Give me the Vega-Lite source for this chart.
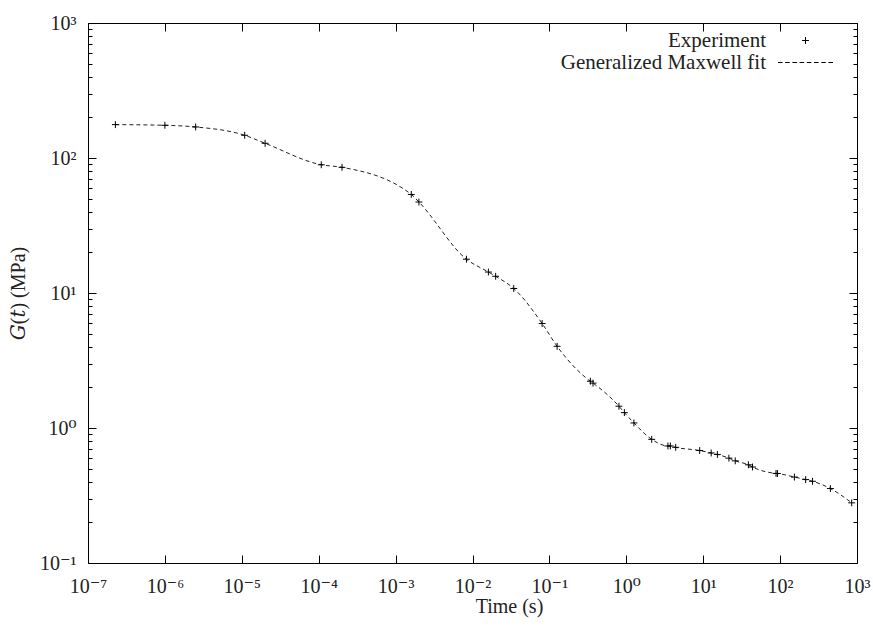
{
  "$schema": "https://vega.github.io/schema/vega-lite/v6.json",
  "width": 769,
  "height": 540,
  "autosize": "none",
  "padding": {"left": 88, "top": 23, "right": 16, "bottom": 63},
  "background": "white",
  "config": {
    "font": "Liberation Serif, DejaVu Serif, serif",
    "view": {"stroke": null},
    "axis": {
      "grid": false,
      "domainColor": "black",
      "domainWidth": 1,
      "tickColor": "black",
      "tickWidth": 1,
      "labelColor": "#222",
      "titleColor": "#222",
      "labelFont": "Liberation Serif, DejaVu Serif, serif",
      "titleFont": "Liberation Serif, DejaVu Serif, serif",
      "labelFontSize": 20,
      "titleFontSize": 20,
      "titleFontWeight": "normal",
      "labelFlush": false,
      "labelOverlap": false
    }
  },
  "data": {
    "values": [
      {"t": 2.27e-7, "G": 176.7},
      {"t": 1.0e-6, "G": 174.7},
      {"t": 2.51e-6, "G": 169.8},
      {"t": 1.09e-5, "G": 147.3},
      {"t": 2.01e-5, "G": 128.5},
      {"t": 1.08e-4, "G": 89.1},
      {"t": 2.01e-4, "G": 85.3},
      {"t": 1.60e-3, "G": 53.7},
      {"t": 2.01e-3, "G": 47.2},
      {"t": 8.34e-3, "G": 17.8},
      {"t": 1.61e-2, "G": 14.3},
      {"t": 2.0e-2, "G": 13.3},
      {"t": 3.44e-2, "G": 10.8},
      {"t": 8.05e-2, "G": 5.94},
      {"t": 0.126, "G": 4.03},
      {"t": 0.341, "G": 2.22},
      {"t": 0.369, "G": 2.15},
      {"t": 0.802, "G": 1.45},
      {"t": 0.944, "G": 1.30},
      {"t": 1.256, "G": 1.09},
      {"t": 2.14, "G": 0.824},
      {"t": 3.48, "G": 0.736},
      {"t": 3.74, "G": 0.736},
      {"t": 4.39, "G": 0.719},
      {"t": 9.0, "G": 0.681},
      {"t": 12.7, "G": 0.653},
      {"t": 15.3, "G": 0.637},
      {"t": 21.6, "G": 0.598},
      {"t": 26.1, "G": 0.571},
      {"t": 38.7, "G": 0.534},
      {"t": 43.8, "G": 0.514},
      {"t": 88.5, "G": 0.461},
      {"t": 92.3, "G": 0.460},
      {"t": 153.5, "G": 0.433},
      {"t": 215, "G": 0.415},
      {"t": 264, "G": 0.403},
      {"t": 451, "G": 0.356},
      {"t": 853, "G": 0.279}
    ]
  },
  "layer": [
    {
      "mark": {"type": "line", "interpolate": "monotone", "strokeDash": [4, 3], "strokeWidth": 1, "color": "#222"},
      "encoding": {
        "x": {
          "field": "t", "type": "quantitative",
          "scale": {"type": "log", "domain": [1e-7, 1000], "nice": false},
          "axis": {
            "orient": "bottom",
            "values": [1e-7, 1e-6, 1e-5, 1e-4, 1e-3, 1e-2, 1e-1, 1, 10, 100, 1000],
            "labelExpr": "'10' + (datum.value < 0.9 ? '⁻' : '') + ['⁰','¹','²','³','⁴','⁵','⁶','⁷','⁸','⁹'][abs(round(log(datum.value)/LN10))]",
            "tickSize": -8,
            "labelPadding": 21,
            "title": "Time (s)",
            "titleX": 421,
            "titleY": 49,
            "titleBaseline": "alphabetic"
          }
        },
        "y": {
          "field": "G", "type": "quantitative",
          "scale": {"type": "log", "domain": [0.1, 1000], "nice": false},
          "axis": {
            "orient": "left",
            "values": [0.1, 0.2, 0.3, 0.4, 0.5, 0.6, 0.7, 0.8, 0.9, 1, 2, 3, 4, 5, 6, 7, 8, 9, 10, 20, 30, 40, 50, 60, 70, 80, 90, 100, 200, 300, 400, 500, 600, 700, 800, 900, 1000],
            "labelExpr": "abs(log(datum.value)/LN10 - round(log(datum.value)/LN10)) < 0.001 ? '10' + (datum.value < 0.9 ? '⁻' : '') + ['⁰','¹','²','³','⁴','⁵','⁶','⁷','⁸','⁹'][abs(round(log(datum.value)/LN10))] : ''",
            "tickSize": {"condition": {"test": "abs(log(datum.value)/LN10 - round(log(datum.value)/LN10)) < 0.001", "value": -8}, "value": -4},
            "labelPadding": 20,
            "title": "𝐺(𝑡) (MPa)",
            "titleX": -60,
            "titleY": 270
          }
        }
      }
    },
    {
      "mark": {"type": "point", "filled": false, "color": "black", "strokeWidth": 1, "size": 400, "opacity": 1},
      "encoding": {
        "x": {
          "field": "t", "type": "quantitative",
          "scale": {"type": "log", "domain": [1e-7, 1000], "nice": false},
          "axis": {
            "orient": "top",
            "values": [1e-7, 1e-6, 1e-5, 1e-4, 1e-3, 1e-2, 1e-1, 1, 10, 100, 1000],
            "labels": false,
            "tickSize": -8,
            "title": null
          }
        },
        "y": {
          "field": "G", "type": "quantitative",
          "scale": {"type": "log", "domain": [0.1, 1000], "nice": false},
          "axis": {
            "orient": "right",
            "values": [0.1, 0.2, 0.3, 0.4, 0.5, 0.6, 0.7, 0.8, 0.9, 1, 2, 3, 4, 5, 6, 7, 8, 9, 10, 20, 30, 40, 50, 60, 70, 80, 90, 100, 200, 300, 400, 500, 600, 700, 800, 900, 1000],
            "labels": false,
            "tickSize": {"condition": {"test": "abs(log(datum.value)/LN10 - round(log(datum.value)/LN10)) < 0.001", "value": -8}, "value": -4},
            "title": null
          }
        },
        "shape": {
          "datum": "Experiment",
          "scale": {
            "domain": ["Experiment", "Generalized Maxwell fit"],
            "range": [
              "M-0.344,0H0.344M0,-0.344V0.344",
              "M-2.75,0H-2.296M-2.03,0H-1.576M-1.309,0H-0.855M-0.589,0H-0.135M0.135,0H0.589M0.855,0H1.309M1.576,0H2.03M2.296,0H2.75"
            ]
          },
          "legend": {
            "orient": "none",
            "legendX": 707,
            "legendY": 7,
            "title": null,
            "labelAlign": "right",
            "labelOffset": -50,
            "labelFont": "Liberation Serif, DejaVu Serif, serif",
            "labelFontSize": 21,
            "labelColor": "#222",
            "labelLimit": 400,
            "symbolSize": 400,
            "symbolStrokeWidth": 1,
            "symbolStrokeColor": "black",
            "symbolFillColor": "transparent",
            "rowPadding": 0
          }
        }
      }
    }
  ],
  "resolve": {"axis": {"x": "independent", "y": "independent"}}
}
